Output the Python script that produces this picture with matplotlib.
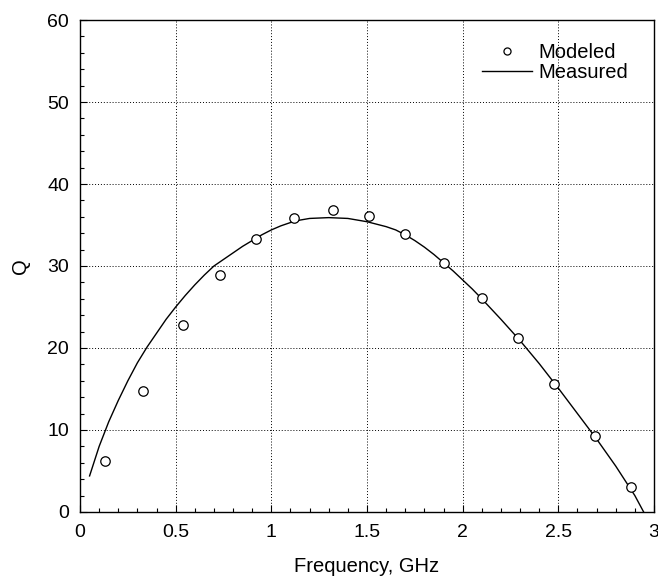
import matplotlib.pyplot as plt
from matplotlib.ticker import MultipleLocator

plt.rcParams['font.family'] = ['Liberation Sans', 'DejaVu Sans']

# Modeled Q (open circles)
freq_modeled = [0.13, 0.33, 0.54, 0.73, 0.92, 1.12, 1.32, 1.51, 1.70,
                1.90, 2.10, 2.29, 2.48, 2.69, 2.88]
q_modeled = [6.2, 14.8, 22.8, 28.9, 33.3, 35.8, 36.8, 36.1, 33.9,
             30.4, 26.1, 21.2, 15.6, 9.3, 3.0]

# Measured Q (solid line)
freq_measured = [0.05, 0.10, 0.15, 0.20, 0.25, 0.30, 0.35, 0.40, 0.45,
                 0.50, 0.55, 0.60, 0.65, 0.70, 0.75, 0.80, 0.85, 0.90,
                 0.95, 1.00, 1.05, 1.10, 1.15, 1.20, 1.30, 1.40, 1.45,
                 1.50, 1.55, 1.60, 1.65, 1.70, 1.75, 1.80, 1.85, 1.90,
                 1.95, 2.00, 2.05, 2.10, 2.20, 2.30, 2.40, 2.50, 2.60,
                 2.70, 2.80, 2.90, 2.946]
q_measured = [4.4, 8.0, 11.0, 13.6, 16.0, 18.2, 20.1, 21.8, 23.5,
              25.0, 26.4, 27.7, 28.9, 30.0, 30.8, 31.6, 32.4, 33.1,
              33.8, 34.4, 34.9, 35.3, 35.6, 35.8, 35.9, 35.8, 35.6,
              35.4, 35.1, 34.8, 34.4, 33.8, 33.1, 32.3, 31.4, 30.4,
              29.4, 28.3, 27.2, 26.0, 23.5, 20.9, 18.1, 15.1, 12.0,
              8.9, 5.6, 2.0, 0.0]

fig = plt.figure(figsize=(6.58, 5.85), dpi=100)
ax = fig.add_axes([0.1216, 0.1248, 0.8723, 0.8410])

ax.plot(freq_modeled, q_modeled, 'o', mfc='white', mec='black',
        ms=6.8, mew=0.9, label='Modeled', zorder=3)
ax.plot(freq_measured, q_measured, '-', color='black', lw=1.0,
        label='Measured', zorder=2)

ax.set_xlim(0, 3)
ax.set_ylim(0, 60)
ax.xaxis.set_major_locator(MultipleLocator(0.5))
ax.xaxis.set_minor_locator(MultipleLocator(0.1))
ax.yaxis.set_major_locator(MultipleLocator(10))
ax.yaxis.set_minor_locator(MultipleLocator(2))
ax.set_xticks([0, 0.5, 1, 1.5, 2, 2.5, 3])
ax.set_xticklabels(['0', '0.5', '1', '1.5', '2', '2.5', '3'])

ax.tick_params(which='both', direction='in', labelsize=14)
ax.tick_params(which='major', length=5, width=0.8)
ax.tick_params(which='minor', length=3, width=0.8)
ax.tick_params(axis='x', pad=9)
ax.tick_params(axis='y', pad=8)
ax.grid(True, which='major', color='black', linestyle=(0, (1, 2)), lw=0.7)

for s in ax.spines.values():
    s.set_linewidth(1.0)

ax.set_xlabel('Frequency, GHz', fontsize=14.5, labelpad=11)
ax.set_ylabel('Q', fontsize=14.5, labelpad=12)

leg = ax.legend(loc='upper left', frameon=False, fontsize=14.5,
                handlelength=2.5, handletextpad=0.3, labelspacing=0.05,
                borderpad=0, borderaxespad=0, markerscale=0.75,
                bbox_to_anchor=(0.70, 0.953))

fig.savefig('out.png', dpi=100)
